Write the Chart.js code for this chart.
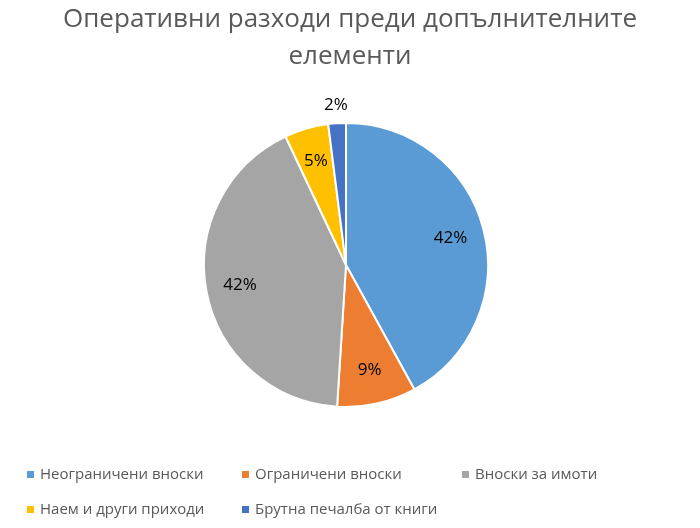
<!DOCTYPE html>
<html>
<head>
<meta charset="utf-8">
<script src="https://cdn.jsdelivr.net/npm/chart.js@4/dist/chart.umd.min.js"></script>
<style>
  html, body { margin: 0; padding: 0; background: #fff; }
  #wrap { width: 700px; height: 528px; }
</style>
</head>
<body>
<div id="wrap"><canvas id="pie"></canvas></div>
<script>
const titleLines = ['Оперативни разходи преди допълнителните', 'елементи'];
const categories = ['Неограничени вноски', 'Ограничени вноски', 'Вноски за имоти', 'Наем и други приходи', 'Брутна печалба от книги'];
const values = [42, 9, 42, 5, 2];
const colors = ['#5B9BD5', '#ED7D31', '#A5A5A5', '#FFC000', '#4472C4'];

// title, slice labels and legend drawn by hand to follow the office-style layout
const decorPlugin = {
    id: 'decor',
    afterDraw(chart) {
        const ctx = chart.ctx;
        ctx.save();
        ctx.fillStyle = '#595959';
        ctx.textAlign = 'center';
        ctx.textBaseline = 'middle';
        ctx.font = '26px "Open Sans"';
        titleLines.forEach((t, i) => ctx.fillText(t, 350, 20 + i * 37));

        const arcs = chart.getDatasetMeta(0).data;
        ctx.font = '17px "Open Sans"';
        ctx.fillStyle = '#000';
        arcs.forEach((arc, i) => {
            const mid = (arc.startAngle + arc.endAngle) / 2;
            const f = values[i] < 3 ? 1.13 : 0.76;
            const r = arc.outerRadius * f;
            ctx.fillText(values[i] + '%', arc.x + Math.cos(mid) * r, arc.y + Math.sin(mid) * r);
        });

        ctx.font = '15px "Open Sans"';
        ctx.textAlign = 'left';
        const cols = [30, 245, 465];
        categories.forEach((c, i) => {
            const x = cols[i % 3];
            const y = 475 + Math.floor(i / 3) * 35;
            ctx.fillStyle = colors[i];
            ctx.fillRect(x - 3, y - 4, 7, 7);
            ctx.fillStyle = '#595959';
            ctx.fillText(c, x + 10, y);
        });
        ctx.restore();
    }
};

new Chart(document.getElementById('pie'), {
    type: 'pie',
    data: {
        labels: categories,
        datasets: [{
            data: values,
            backgroundColor: colors,
            borderColor: '#fff',
            borderWidth: 2,
        }]
    },
    options: {
        responsive: true,
        maintainAspectRatio: false,
        animation: false,
        layout: { padding: { top: 122, bottom: 120, left: 0, right: 8 } },
        plugins: {
            legend: { display: false },
            title: { display: false },
            tooltip: { enabled: false }
        }
    },
    plugins: [decorPlugin]
});
</script>
</body>
</html>
